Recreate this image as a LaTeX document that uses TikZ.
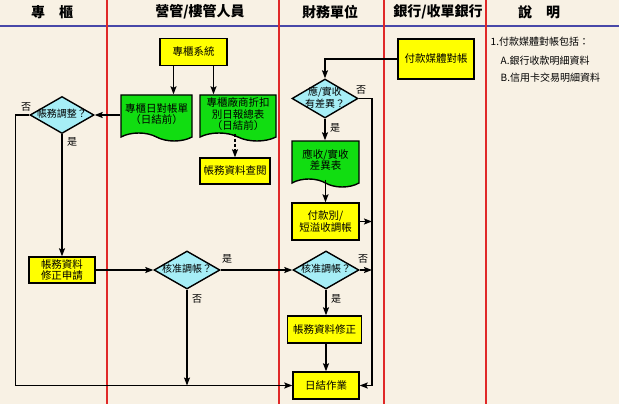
\documentclass[tikz,border=0pt]{standalone}
\usepackage{fontspec}
\newfontfamily\cjk{Noto Sans CJK TC}
\usetikzlibrary{shapes.geometric,shapes.symbols,arrows.meta}

\definecolor{bgcream}{HTML}{F8F1E4}
\definecolor{boxyellow}{HTML}{FFFF00}
\definecolor{docgreen}{HTML}{11DD11}
\definecolor{decicyan}{HTML}{A6EEF6}
\definecolor{lanered}{HTML}{E02828}
\definecolor{headblue}{HTML}{4848A8}

\newcommand{\dtext}[1]{\makebox[0pt]{\renewcommand{\arraystretch}{0.85}\begin{tabular}{@{}c@{}}#1\end{tabular}}}

\begin{document}
\begin{tikzpicture}[x=1pt,y=-1pt,
    font=\cjk\fontsize{10.5}{11.5}\selectfont,
    >={Stealth[length=8pt,width=6pt,inset=1.5pt]},
    line width=1.4pt,
    proc/.style={rectangle, draw=black, line width=1.4pt, fill=boxyellow,
      align=center, inner sep=1pt},
    docu/.style={tape, tape bend top=none, tape bend bottom=out and in,
      tape bend height=8pt, draw=black, line width=1.4pt, fill=docgreen,
      align=center, inner sep=1pt},
    deci/.style={diamond, draw=black, line width=1.4pt, fill=decicyan,
      inner sep=1pt, font=\cjk\fontsize{10}{11}\selectfont},
    head/.style={font=\cjk\bfseries\fontsize{14}{14}\selectfont},
    tag/.style={font=\cjk\fontsize{10}{10}\selectfont, inner sep=0pt},
    note/.style={font=\cjk\fontsize{10}{10}\selectfont, inner sep=0pt, anchor=west}]

    \useasboundingbox (0,0) rectangle (619,404);
    \fill[bgcream] (0,0) rectangle (619,404);

    % lanes
    \draw[headblue, line width=2pt] (0,26) -- (619,26);
    \draw[lanered, line width=1.5pt] (107,0) -- (107,404);
    \draw[lanered, line width=1.5pt] (279,0) -- (279,404);
    \draw[lanered, line width=1.5pt] (384,0) -- (384,404);
    \draw[lanered, line width=1.5pt] (486,0) -- (486,404);

    \node[head] (h1) at (52,12) {專　櫃};
    \node[head] (h2) at (200,12) {營管/樓管人員};
    \node[head] (h3) at (330,12) {財務單位};
    \node[head] (h4) at (438,12) {銀行/收單銀行};
    \node[head] (h5) at (539,12) {說　明};

    % nodes
    \node[proc, minimum width=67, minimum height=27] (sys) at (193.5,52) {專櫃系統};
    \node[docu, minimum width=71, minimum height=46] (doc1) at (156.5,114) {專櫃日對帳單\\（日結前）};
    \node[docu, minimum width=76, minimum height=46] (doc2) at (238,114) {專櫃廠商折扣\\別日報總表\\（日結前）};
    \node[proc, minimum width=70, minimum height=26] (chk) at (235,171) {帳務資料查閱};

    \node[deci, minimum width=64, minimum height=37] (adj) at (62,115) {\dtext{帳務調整？}};
    \node[proc, minimum width=66, minimum height=26] (req) at (62,270) {帳務資料\\修正申請};
    \node[deci, minimum width=66, minimum height=38] (kz1) at (187,270) {\dtext{核准調帳？}};
    \node[deci, minimum width=66, minimum height=38] (kz2) at (326,270) {\dtext{核准調帳？}};
    \node[proc, minimum width=74, minimum height=27] (fix) at (324.5,329.5) {帳務資料修正};
    \node[proc, minimum width=66, minimum height=27] (end) at (326,385.5) {日結作業};

    \node[proc, minimum width=76, minimum height=40] (pay) at (436,59) {付款媒體對帳};
    \node[deci, minimum width=66, minimum height=39] (yc) at (325,98.5) {\dtext{應/實收\\有差異？}};
    \node[docu, minimum width=67, minimum height=46] (doc3) at (325.5,160) {應收/實收\\差異表};
    \node[proc, minimum width=67, minimum height=37] (fk) at (325.5,221.5) {付款別/\\短溢收調帳};

    \coordinate (rbus) at (372,98.5);

    \node[tag] (t1) at (26,107) {否};
    \node[tag] (t2) at (72,142) {是};
    \node[tag] (t3) at (227,259) {是};
    \node[tag] (t4) at (197,299) {否};
    \node[tag] (t5) at (363,259) {否};
    \node[tag] (t6) at (336,299) {是};
    \node[tag] (t7) at (361,90) {否};
    \node[tag] (t8) at (335,128) {是};

    \node[note] (n1) at (490,42) {1.付款媒體對帳包括：};
    \node[note] (n2) at (500,61) {A.銀行收款明細資料};
    \node[note] (n3) at (500,78) {B.信用卡交易明細資料};

    % connectors
    \draw[->] ([xshift=-20pt]sys.south) -- ([xshift=-20pt]sys.south |- doc1.north);
    \draw[->] ([xshift=20pt]sys.south) -- ([xshift=20pt]sys.south |- doc2.north);
    \draw[->, densely dashed] (chk.north |- doc2.south) -- (chk.north);
    \draw[->] (doc1.west |- adj.east) -- (adj.east);
    \draw[->] (adj.west) -- ++(-14,0) |- (end.west);
    \draw[->] (adj.south) -- (req.north);
    \draw[->] (req.east) -- (kz1.west);
    \draw[->] (kz1.east) -- (kz2.west);
    \draw[->] (kz1.south) -- (kz1.south |- end.west);
    \draw[->] (kz2.south) -- (kz2.south |- fix.north);
    \draw[->] (fix.south -| end.north) -- (end.north);
    \draw[->] (kz2.east) -- (kz2.east -| rbus);
    \draw[->] (pay.west) -| (yc.north);
    \draw[->] (yc.east) -- (rbus) -- (rbus |- end.east) -- (end.east);
    \draw[->] (yc.south) -- (yc.south |- doc3.north);
    \draw[->] (doc3.south -| fk.north) -- (fk.north);
    \draw[->] (fk.east) -- (fk.east -| rbus);
  \end{tikzpicture}
\end{document}
